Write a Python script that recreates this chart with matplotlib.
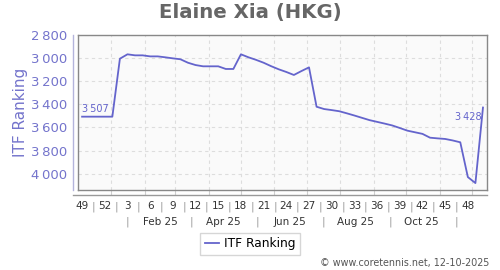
import matplotlib
matplotlib.use("Agg")
import matplotlib.pyplot as plt
import matplotlib.dates as mdates
from matplotlib.transforms import blended_transform_factory
from datetime import datetime, timedelta

# weekly ITF ranking, first point 5 Dec 2024
start = datetime(2024, 12, 5)
ranking = [3507, 3507, 3507, 3507, 3507, 3005, 2967, 2976, 2976, 2985,
           2985, 2993, 3002, 3010, 3040, 3060, 3071, 3071, 3071, 3094,
           3094, 2967, 2993, 3015, 3040, 3070, 3097, 3120, 3146, 3112,
           3080, 3421, 3441, 3450, 3460, 3478, 3497, 3517, 3537, 3552,
           3567, 3583, 3605, 3628, 3642, 3656, 3689, 3695, 3700, 3713,
           3729, 4030, 4082, 3428]
dates = [start + timedelta(weeks=i) for i in range(len(ranking))]

week_labels = ["49", "52", "3", "6", "9", "12", "15", "18", "21", "24",
               "27", "30", "33", "36", "39", "42", "45", "48"]
week_dates = ["2024-12-05", "2024-12-26", "2025-01-16", "2025-02-06",
              "2025-02-27", "2025-03-20", "2025-04-10", "2025-05-01",
              "2025-05-22", "2025-06-12", "2025-07-03", "2025-07-24",
              "2025-08-14", "2025-09-04", "2025-09-25", "2025-10-16",
              "2025-11-06", "2025-11-27"]
month_labels = ["Feb 25", "Apr 25", "Jun 25", "Aug 25", "Oct 25"]
month_dates = ["2025-02-15", "2025-04-15", "2025-06-15", "2025-08-15", "2025-10-15"]
month_seps = ["2025-01-16", "2025-03-16", "2025-05-16", "2025-07-16",
              "2025-09-16", "2025-11-16"]
yticks = [2800, 3000, 3200, 3400, 3600, 3800, 4000]

line_col = "#6464cc"
text_col = "#7474cc"


def fmt(v):
    return f"{v // 1000}\u2009{v % 1000:03d}"


fig = plt.figure(figsize=(5, 2.7), dpi=100)
ax = fig.add_axes([0.1566, 0.2963, 0.818, 0.574])
ax.set_facecolor("#fafafa")

ax.plot(dates, ranking, color=line_col, lw=1.3, label="ITF Ranking")

ax.set_xlim(datetime(2024, 12, 1, 12), datetime(2025, 12, 15))
ax.set_ylim(4142, 2800)

for s in ax.spines.values():
    s.set_color("#888888")
    s.set_linewidth(1)

# grid: monthly vertical, ranking ticks horizontal
ax.xaxis.set_major_locator(mdates.MonthLocator())
ax.set_yticks(yticks)
ax.grid(True, ls=(0, (3, 3)), color="#dddddd", lw=0.8)
ax.tick_params(axis="x", length=3.6, width=0.8, color="#d0d0d0", labelbottom=False)
ax.tick_params(axis="y", length=0, pad=8, labelsize=9.5, labelcolor=text_col)
ax.set_yticklabels([fmt(v) for v in yticks])
ax.set_ylabel("ITF Ranking", fontsize=11, color=text_col, labelpad=2)

# separate left axis line and bottom axis line
ax.plot([-0.012, -0.012], [0, 1], transform=ax.transAxes, color="#b4b4dc",
        lw=1, clip_on=False)
ax.plot([-0.012, 1.0], [-0.032, -0.032], transform=ax.transAxes,
        color="#999999", lw=1, clip_on=False)

# point labels
ax.annotate(fmt(ranking[0]), (dates[0], ranking[0]),
            xytext=(0, 2), textcoords="offset points", fontsize=7,
            color=line_col, ha="left", va="bottom")
ax.annotate(fmt(ranking[-1]), (dates[-1], ranking[-1]),
            xytext=(-1, -3), textcoords="offset points", fontsize=7,
            color=line_col, ha="right", va="top")

# week and month labels under the axis
tr = blended_transform_factory(ax.transData, ax.transAxes)
wx = [mdates.date2num(datetime.fromisoformat(d)) for d in week_dates]
for x, lab in zip(wx, week_labels):
    ax.text(x, -0.105, lab, transform=tr, fontsize=7.5, color="#333333",
            ha="center", va="center")
for a, b in zip(wx[:-1], wx[1:]):
    ax.text((a + b) / 2, -0.105, "|", transform=tr, fontsize=8,
            color="#999999", ha="center", va="center")
for d, lab in zip(month_dates, month_labels):
    ax.text(datetime.fromisoformat(d), -0.205, lab, transform=tr, fontsize=7.5,
            color="#333333", ha="center", va="center")
for d in month_seps:
    ax.text(datetime.fromisoformat(d), -0.205, "|", transform=tr, fontsize=8,
            color="#999999", ha="center", va="center")

fig.text(0.5, 0.953, "Elaine Xia (HKG)", fontsize=14.2, fontweight="bold",
         color="#666666", ha="center", va="center")

leg = fig.legend(loc="center", bbox_to_anchor=(0.5, 0.0963), fontsize=8.7,
                 frameon=True, fancybox=False, handlelength=1.2,
                 handletextpad=0.4, borderpad=0.35, borderaxespad=0)
leg.get_frame().set_edgecolor("#cccccc")
leg.get_frame().set_linewidth(1)

fig.text(0.978, 0.026, "\u00a9 www.coretennis.net, 12-10-2025", fontsize=6.9,
         color="#555555", ha="right", va="center")

fig.savefig("out.png", dpi=100)
